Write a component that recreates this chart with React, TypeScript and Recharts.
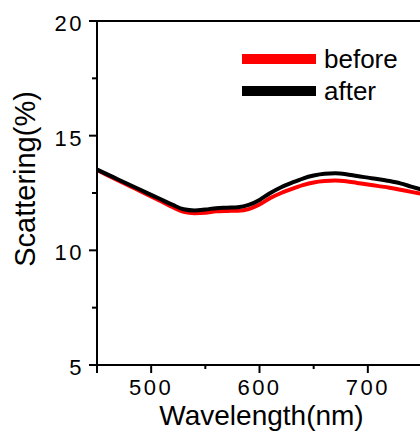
import { Label, Legend, Line, LineChart, ReferenceLine, XAxis, YAxis } from 'recharts';

// Scattering spectra before/after, plot box cropped at the right edge like the source figure.

const WAVELENGTH = [
  450, 460, 470, 480, 490, 500, 510, 520, 530, 540, 550, 560, 570, 580, 590, 600,
  610, 620, 630, 640, 650, 660, 670, 680, 690, 700, 710, 720, 730, 740, 750,
];
const BEFORE = [
  13.5, 13.27, 13.04, 12.81, 12.58, 12.35, 12.12, 11.88, 11.68, 11.62, 11.64, 11.7, 11.72, 11.73, 11.8, 12.0,
  12.28, 12.5, 12.68, 12.84, 12.96, 13.02, 13.04, 13.01, 12.94, 12.87, 12.8, 12.73, 12.64, 12.55, 12.46,
];
const AFTER = [
  13.52, 13.3, 13.08, 12.86, 12.64, 12.42, 12.2, 11.98, 11.79, 11.74, 11.78, 11.84, 11.86, 11.88, 11.98, 12.2,
  12.5, 12.75, 12.95, 13.13, 13.26, 13.34, 13.36, 13.32, 13.24, 13.17, 13.1, 13.02, 12.92, 12.78, 12.64,
];
const SERIES_ORDER = ['before', 'after'];
const X_TICKS = [450, 500, 550, 600, 650, 700, 750];
const X_LABELS = [500, 600, 700];
const Y_TICKS = [5, 7.5, 10, 12.5, 15, 17.5, 20];
const Y_LABELS = [5, 10, 15, 20];

const data = WAVELENGTH.map((w, i) => ({ w, before: BEFORE[i], after: AFTER[i] }));

const FONT = 'Arial, "Liberation Sans", sans-serif';

function XTick({ x, y, payload }: any) {
  const v = payload.value;
  const major = v % 100 === 0 || v === 450;
  return (
    <g>
      <line x1={x} x2={x} y1={y} y2={y + (major ? 8 : 4)} stroke="#000" strokeWidth={2} />
      {X_LABELS.includes(v) && (
        <text x={x} y={y + 30} textAnchor="middle" fontSize={22} letterSpacing={2.5} fontFamily={FONT} fill="#000">
          {v}
        </text>
      )}
    </g>
  );
}

function YTick({ x, y, payload }: any) {
  const v = payload.value;
  const major = Y_LABELS.includes(v);
  return (
    <g>
      <line x1={x} x2={x - (major ? 8 : 5)} y1={y} y2={y} stroke="#000" strokeWidth={2} />
      {major && (
        <text x={x - 13} y={y + 10} textAnchor="end" fontSize={22} letterSpacing={2.5} fontFamily={FONT} fill="#000">
          {v}
        </text>
      )}
    </g>
  );
}

function LegendBox({ payload }: any) {
  const items = [...(payload ?? [])].sort(
    (a: any, b: any) => SERIES_ORDER.indexOf(a.value) - SERIES_ORDER.indexOf(b.value),
  );
  return (
    <div style={{ fontFamily: FONT }}>
      {items.map((e: any) => (
        <div key={e.value} style={{ display: 'flex', alignItems: 'center', height: 32 }}>
          <span style={{ display: 'inline-block', width: 74, height: 10, background: e.color }} />
          <span style={{ fontSize: 26, marginLeft: 8, color: '#000', lineHeight: '32px' }}>{e.value}</span>
        </div>
      ))}
    </div>
  );
}

export default function App() {
  return (
    <div style={{ position: 'absolute', left: 0, top: 0, width: 420, height: 433, overflow: 'hidden', background: '#fff' }}>
      <LineChart width={440} height={433} data={data} margin={{ top: 21, right: 18, left: 0, bottom: 0 }}>
        <XAxis
          dataKey="w"
          type="number"
          domain={[450, 750]}
          ticks={X_TICKS}
          interval={0}
          tickSize={0}
          tickMargin={0}
          tickLine={false}
          tick={<XTick />}
          height={68}
          axisLine={{ stroke: '#000', strokeWidth: 2 }}
        >
          <Label
            content={({ viewBox }: any) => (
              <text
                x={viewBox.x + viewBox.width / 2 + 2}
                y={viewBox.y + 60}
                textAnchor="middle"
                fontSize={28}
                fontFamily={FONT}
                fill="#000"
              >
                Wavelength(nm)
              </text>
            )}
          />
        </XAxis>
        <YAxis
          type="number"
          domain={[5, 20]}
          ticks={Y_TICKS}
          interval={0}
          tickSize={0}
          tickMargin={0}
          tickLine={false}
          tick={<YTick />}
          width={97}
          axisLine={{ stroke: '#000', strokeWidth: 2 }}
        >
          <Label
            content={() => (
              <text
                x={35}
                y={179}
                transform="rotate(-90, 35, 179)"
                textAnchor="middle"
                fontSize={29}
                fontFamily={FONT}
                fill="#000"
              >
                Scattering(%)
              </text>
            )}
          />
        </YAxis>
        <ReferenceLine y={20} stroke="#000" strokeWidth={2} />
        <Legend
          layout="vertical"
          align="center"
          verticalAlign="middle"
          content={<LegendBox />}
          wrapperStyle={{ position: 'absolute', left: 242, top: 43, width: 'auto' }}
        />
        <Line type="monotone" dataKey="before" name="before" stroke="#ff0000" strokeWidth={4} dot={false} isAnimationActive={false} />
        <Line type="monotone" dataKey="after" name="after" stroke="#000000" strokeWidth={4} dot={false} isAnimationActive={false} />
      </LineChart>
    </div>
  );
}
